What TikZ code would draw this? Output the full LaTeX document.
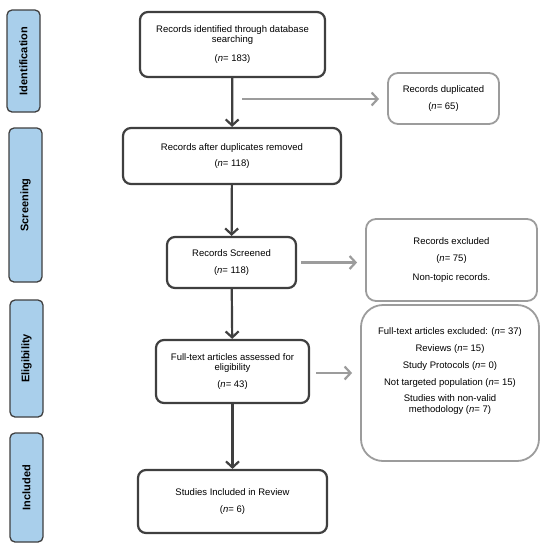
\documentclass[tikz,border=0pt]{standalone}
\usepackage{fontspec}
\setmainfont{Liberation Sans}
\usetikzlibrary{arrows.meta, positioning, calc}
\definecolor{boxline}{HTML}{3F3F3F}
\definecolor{sideline}{HTML}{9C9C9C}
\definecolor{phasefill}{HTML}{A9CFEB}

\begin{document}
\begin{tikzpicture}[x=1pt, y=-1pt,
    phase/.style={draw=boxline, line width=1.3pt, fill=phasefill, rounded corners=5pt, rotate=90, minimum height=33pt, inner sep=0pt, font=\fontsize{11}{12}\selectfont\bfseries},
    stage/.style={draw=boxline, line width=2.2pt, rounded corners=8pt, align=center, inner sep=0pt, font=\fontsize{9.5}{10.5}\selectfont},
    side/.style={draw=sideline, line width=1.8pt, rounded corners=10pt, align=center, inner sep=0pt, font=\fontsize{9.5}{10.5}\selectfont},
    flow/.style={draw=boxline, line width=2.2pt, -{Straight Barb[length=6pt, width=13pt]}},
    aside/.style={draw=sideline, line width=2.2pt, -{Straight Barb[length=6pt, width=13pt]}}]
  \useasboundingbox (0,0) rectangle (549,550);

  % Phase labels
  \node[phase, minimum width=102pt] (ident) at (23.5,61) {Identification};
  \node[phase, minimum width=154pt] (screen) at (25.5,205) {Screening};
  \node[phase, minimum width=117pt] (elig) at (26.5,358.5) {Eligibility};
  \node[phase, minimum width=109pt] (incl) at (26.5,487.5) {Included};

  % Main column
  \node[stage, minimum width=185pt, minimum height=65pt] (found) at (232.5,44.5) {Records identified through database\\searching\\[8pt](\textit{n}= 183)};
  \node[stage, minimum width=218pt, minimum height=56pt] (nodup) at (232,156) {Records after duplicates removed\\[6pt](\textit{n}= 118)};
  \node[stage, minimum width=129pt, minimum height=51pt] (screened) at (231.5,262.5) {Records Screened\\[7pt](\textit{n}= 118)};
  \node[stage, minimum width=153pt, minimum height=63pt] (assessed) at (232.5,371.5) {Full-text articles assessed for\\eligibility\\[6pt](\textit{n}= 43)};
  \node[stage, minimum width=189pt, minimum height=63pt] (included) at (232.5,501.5) {Studies Included in Review\\[7pt](\textit{n}= 6)};

  % Side boxes
  \node[side, minimum width=111pt, minimum height=51pt] (dup) at (443.5,98.5) {Records duplicated\\[6pt](\textit{n}= 65)};
  \node[side, minimum width=171pt, minimum height=82pt] (excl) at (451.5,260) {Records excluded\\[7pt](\textit{n}= 75)\\[8pt]Non-topic records.};
  \node[side, rounded corners=22pt, minimum width=178pt, minimum height=156pt] (ftexcl) at (450,383) {Full-text articles excluded: (\textit{n}= 37)\\[6pt]Reviews (\textit{n}= 15)\\[7pt]Study Protocols (\textit{n}= 0)\\[6pt]Not targeted population (\textit{n}= 15)\\[6pt]Studies with non-valid\\methodology (\textit{n}= 7)\\[15pt]\mbox{}};

  % Arrows
  \draw[flow] (found) -- (nodup);
  \draw[flow] (nodup) -- (screened);
  \draw[flow] (screened) -- (assessed);
  \draw[flow] (assessed) -- (included);

  \coordinate (dupfrom) at (242,99);
  \draw[aside, shorten >=8pt] (dupfrom) -- (dupfrom -| dup.west);
  \draw[aside, shorten <=4pt, shorten >=8pt] (screened.east) -- (screened.east -| excl.west);
  \draw[aside, shorten <=6pt, shorten >=8pt] ($(assessed.east)+(0,1.5)$) -- ($(assessed.east -| ftexcl.west)+(0,1.5)$);
\end{tikzpicture}
\end{document}
